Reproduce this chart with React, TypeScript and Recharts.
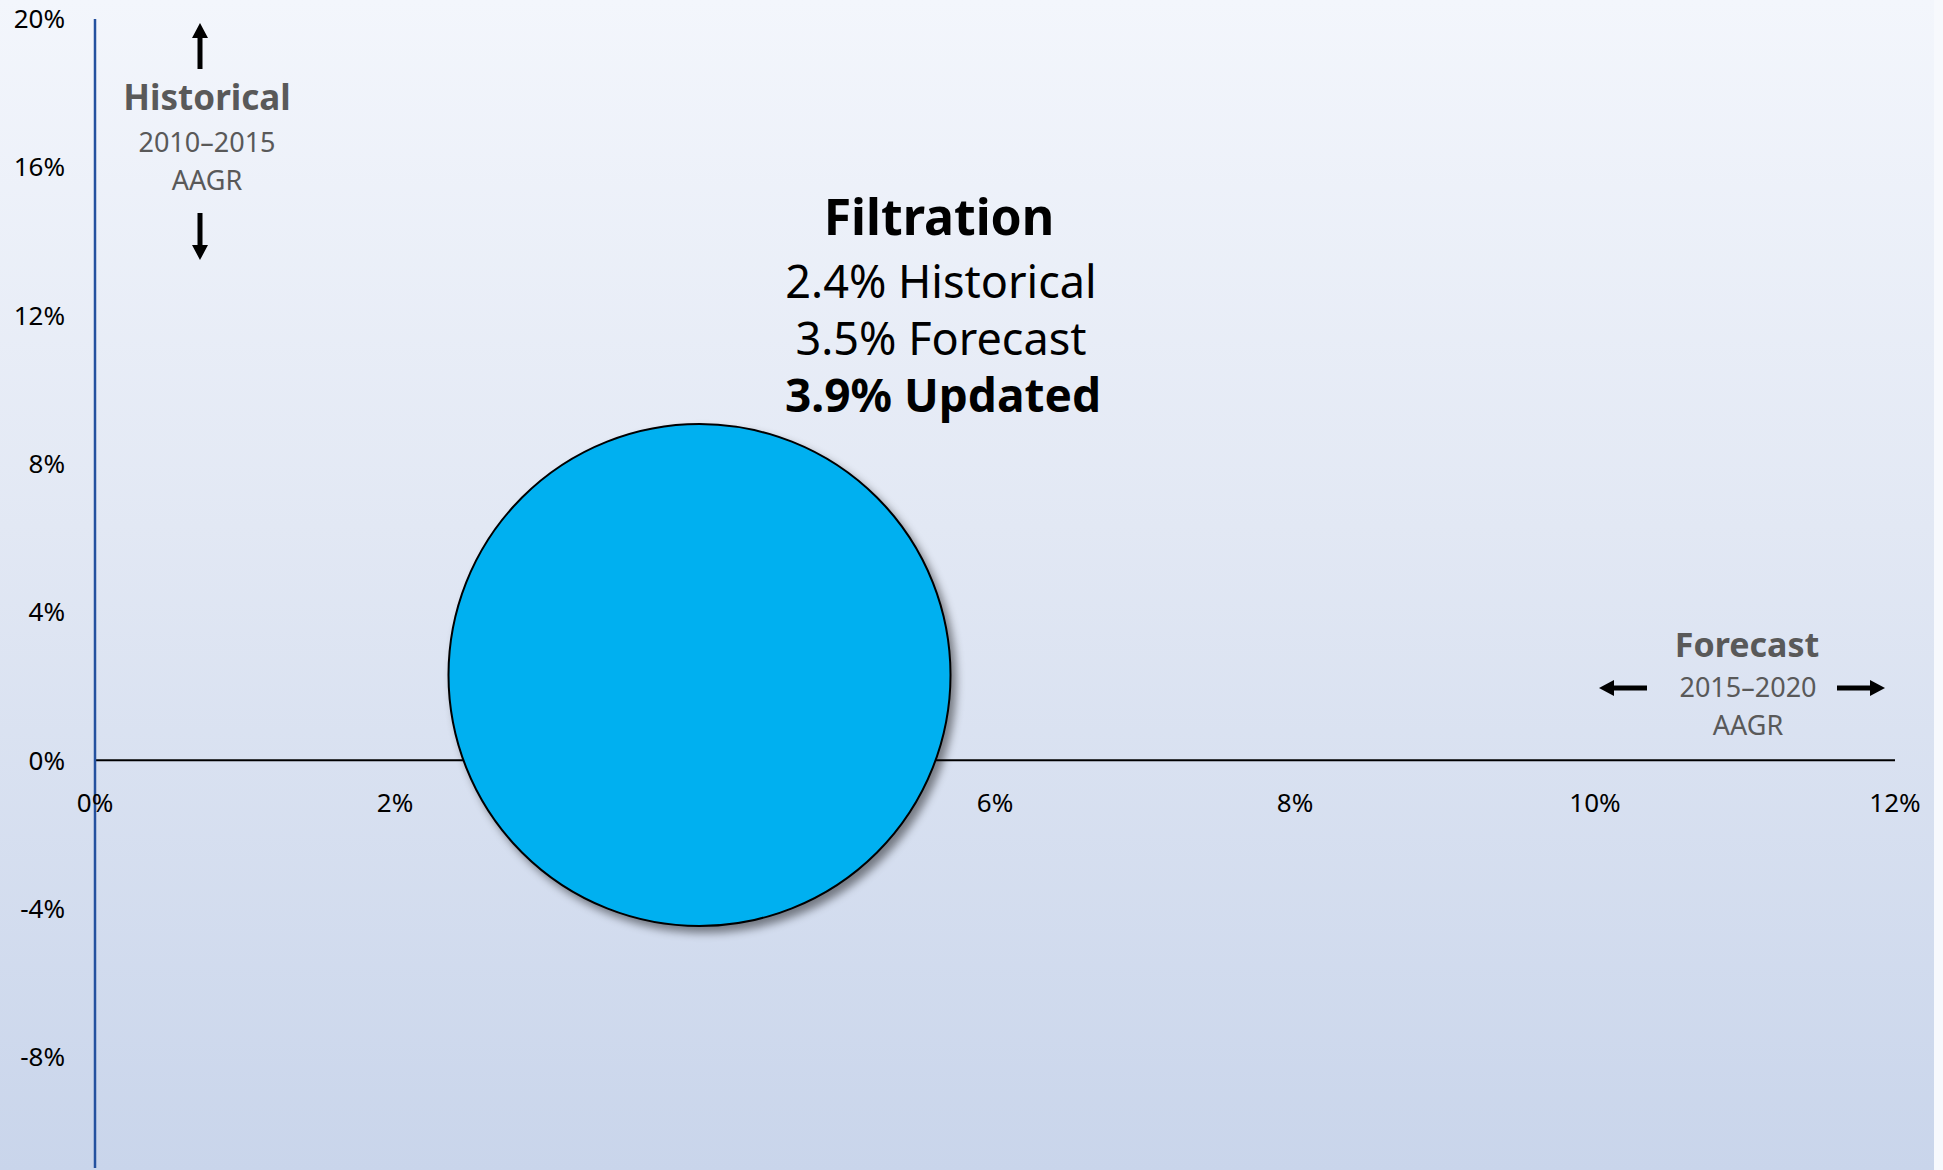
import React from "react";
import {
  ScatterChart,
  Scatter,
  XAxis,
  YAxis,
  ZAxis,
  ReferenceLine,
} from "recharts";

// values
const segments = ["Filtration"];
const historicalAagr = [2.4];
const forecastAagr = [3.5];
const updatedAagr = [3.9];
const bubbleX = [4.03]; // forecast 2015–2020 AAGR, where the bubble sits
const bubbleY = [2.3]; // historical 2010–2015 AAGR, where the bubble sits

const xTicks = [0, 2, 4, 6, 8, 10, 12];
const yTicks = [20, 16, 12, 8, 4, 0, -4, -8];

const FONT = "'Noto Sans', 'Open Sans', sans-serif";
const W = 1943;
const H = 1170;
const BUBBLE_R = 251;

const bubbleData = segments.map((name, i) => ({
  name,
  x: bubbleX[i],
  y: bubbleY[i],
  z: updatedAagr[i],
}));
const tickData = xTicks.map((v) => ({ x: v, y: 0 }));

function XTickLabel(props: any) {
  const { cx, cy, payload } = props;
  return (
    <text
      x={cx}
      y={cy + 42}
      textAnchor="middle"
      dominantBaseline="central"
      fontSize={26}
      fontFamily={FONT}
      fill="#000"
    >
      {payload.x}%
    </text>
  );
}

function Bubble(props: any) {
  const { cx, cy, width } = props;
  return (
    <circle
      cx={cx}
      cy={cy}
      r={width / 2}
      fill="#00b0f0"
      stroke="#000"
      strokeWidth={2}
      filter="url(#bubbleShadow)"
    />
  );
}

function Arrow({ x1, y1, x2, y2 }: { x1: number; y1: number; x2: number; y2: number }) {
  // x2,y2 is the tip
  const dx = x2 - x1;
  const dy = y2 - y1;
  const len = Math.hypot(dx, dy);
  const ux = dx / len;
  const uy = dy / len;
  const head = 15;
  const half = 8;
  const bx = x2 - ux * head;
  const by = y2 - uy * head;
  return (
    <g>
      <line x1={x1} y1={y1} x2={bx + ux} y2={by + uy} stroke="#000" strokeWidth={5} />
      <polygon
        points={`${x2},${y2} ${bx - uy * half},${by + ux * half} ${bx + uy * half},${by - ux * half}`}
        fill="#000"
      />
    </g>
  );
}

export default function App() {
  const i = 0;
  return (
    <div
      style={{
        position: "absolute",
        left: 0,
        top: 0,
        width: W,
        height: H,
        overflow: "hidden",
        background: "linear-gradient(180deg, #f3f6fc 0%, #e2e8f4 45%, #c9d5eb 100%)",
        fontFamily: FONT,
      }}
    >
      <svg width={0} height={0} style={{ position: "absolute" }}>
        <defs>
          <filter id="bubbleShadow" x="-20%" y="-20%" width="150%" height="150%">
            <feDropShadow dx={5} dy={6} stdDeviation={4} floodColor="#000" floodOpacity={0.45} />
          </filter>
        </defs>
      </svg>
      <ScatterChart width={W} height={H} margin={{ top: 19, right: 48, bottom: 2, left: 0 }}>
        <XAxis type="number" dataKey="x" domain={[0, 12]} ticks={xTicks} hide />
        <YAxis
          type="number"
          dataKey="y"
          domain={[-11, 20]}
          ticks={yTicks}
          interval={0}
          width={95}
          tickFormatter={(v) => `${v}%`}
          tick={{ fontSize: 26, fill: "#000", fontFamily: FONT }}
          tickLine={false}
          tickSize={0}
          tickMargin={30}
          axisLine={{ stroke: "#24519f", strokeWidth: 2.5 }}
        />
        <ZAxis
          type="number"
          dataKey="z"
          range={[Math.PI * BUBBLE_R * BUBBLE_R, Math.PI * BUBBLE_R * BUBBLE_R]}
        />
        <ReferenceLine y={0} stroke="#000" strokeWidth={2} />
        <Scatter data={tickData} shape={XTickLabel} isAnimationActive={false} legendType="none" />
        <Scatter data={bubbleData} shape={Bubble} isAnimationActive={false} legendType="none" />
      </ScatterChart>

      <svg
        width={W}
        height={H}
        style={{ position: "absolute", left: 0, top: 0, pointerEvents: "none" }}
        fontFamily={FONT}
      >
        {/* Historical axis note */}
        <Arrow x1={200} y1={69} x2={200} y2={23} />
        <text x={207} y={110} textAnchor="middle" fontSize={35} fontWeight={700} fill="#595959">
          Historical
        </text>
        <text x={207} y={152} textAnchor="middle" fontSize={27} fill="#595959">
          2010–2015
        </text>
        <text x={207} y={190} textAnchor="middle" fontSize={27} fill="#595959">
          AAGR
        </text>
        <Arrow x1={200} y1={213} x2={200} y2={260} />

        {/* Forecast axis note */}
        <text x={1747} y={657} textAnchor="middle" fontSize={34} fontWeight={700} fill="#595959">
          Forecast
        </text>
        <text x={1748} y={697} textAnchor="middle" fontSize={27} fill="#595959">
          2015–2020
        </text>
        <text x={1748} y={735} textAnchor="middle" fontSize={27} fill="#595959">
          AAGR
        </text>
        <Arrow x1={1647} y1={688} x2={1599} y2={688} />
        <Arrow x1={1837} y1={688} x2={1885} y2={688} />

        {/* bubble label */}
        <text x={939} y={235} textAnchor="middle" fontSize={50} fontWeight={700} fill="#000">
          {segments[i]}
        </text>
        <text x={941} y={298} textAnchor="middle" fontSize={45} fill="#000">
          {historicalAagr[i].toFixed(1)}% Historical
        </text>
        <text x={941} y={355} textAnchor="middle" fontSize={45} fill="#000">
          {forecastAagr[i].toFixed(1)}% Forecast
        </text>
        <text x={943} y={412} textAnchor="middle" fontSize={46} fontWeight={700} fill="#000">
          {updatedAagr[i].toFixed(1)}% Updated
        </text>
      </svg>
      <div
        style={{ position: "absolute", left: 1934, top: 0, width: 9, height: H, background: "#f7f9fd" }}
      />
    </div>
  );
}
